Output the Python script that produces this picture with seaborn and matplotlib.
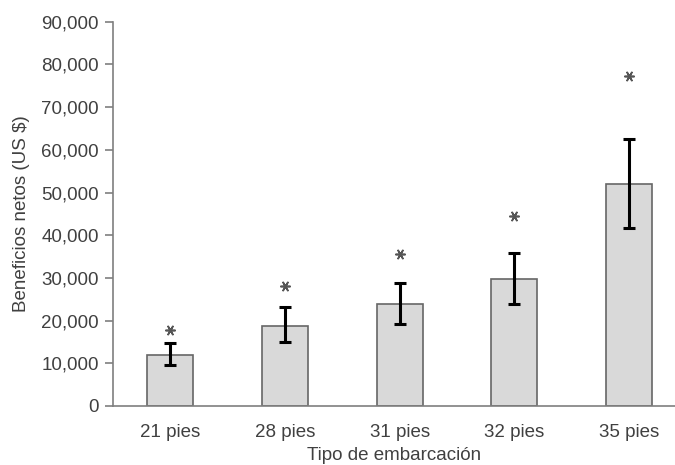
import matplotlib
matplotlib.use("Agg")
import matplotlib.pyplot as plt
import matplotlib.ticker as mticker
import numpy as np
import pandas as pd
import seaborn as sns

# Net profit by vessel length (US $)
categories = ["21 pies", "28 pies", "31 pies", "32 pies", "35 pies"]
profit = [12000, 18800, 24000, 29800, 52000]
err_low = [2500, 3900, 4700, 5900, 10400]
err_high = [2700, 4300, 4900, 6100, 10500]
asterisk_y = [17800, 28000, 35700, 44500, 77200]

df = pd.DataFrame({"tipo": categories, "beneficio": profit})

sns.set_theme(style="white")
plt.rcParams["font.family"] = ["Liberation Sans", "DejaVu Sans"]

text_col = "#404040"
spine_col = "#7f7f7f"

fig = plt.figure(figsize=(6.75, 4.65), dpi=100)
ax = fig.add_axes([0.1674, 0.1269, 0.8326, 0.8264])

sns.barplot(data=df, x="tipo", y="beneficio", color="#d9d9d9",
            width=0.4, edgecolor="#666666", linewidth=1.2,
            errorbar=None, saturation=1, ax=ax)

x = np.arange(len(categories))
ax.errorbar(x, profit, yerr=[err_low, err_high], fmt="none",
            ecolor="black", elinewidth=2.2, capsize=4, capthick=2.2, zorder=5)

# significance asterisks above each bar
ax.scatter(x, asterisk_y, marker=(6, 2, 90), s=45, color="#555555",
           linewidths=1.2, zorder=5)

ax.set_ylim(0, 90000)
ax.set_xlim(-0.5, 4.4)
ax.yaxis.set_major_locator(mticker.MultipleLocator(10000))
ax.yaxis.set_major_formatter(mticker.FuncFormatter(lambda v, p: f"{int(v):,}"))

for side in ["top", "right"]:
    ax.spines[side].set_visible(False)
for side in ["left", "bottom"]:
    ax.spines[side].set_color(spine_col)
    ax.spines[side].set_linewidth(1.2)

ax.tick_params(axis="y", left=True, length=6, width=1.2, color=spine_col,
               labelsize=13.5, labelcolor=text_col, pad=4)
ax.tick_params(axis="x", bottom=False, labelsize=13.5, labelcolor=text_col, pad=7)

ax.set_xlabel("Tipo de embarcación", fontsize=13.5, color=text_col, labelpad=4)
ax.set_ylabel("Beneficios netos (US $)", fontsize=13.5, color=text_col, labelpad=8)

fig.savefig("out.png", dpi=100)
